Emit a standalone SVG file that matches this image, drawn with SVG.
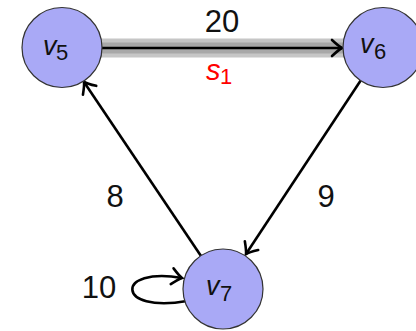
<svg xmlns="http://www.w3.org/2000/svg" width="416" height="331" viewBox="0 0 416 331">
<style>
.node{fill:#a9a9f6;stroke:#333;stroke-width:1.2}
.edge{fill:none;stroke:#000;stroke-width:2.6}
.lbl{font-family:"Liberation Sans",Arial,sans-serif;font-size:31px;fill:#111}
.v{font-family:"Liberation Sans",Arial,sans-serif;font-style:italic;font-size:27px;fill:#111}
.sub{font-family:"Liberation Sans",Arial,sans-serif;font-size:22px;fill:#111}
</style>
<defs>
<marker id="arr" markerUnits="userSpaceOnUse" markerWidth="20" markerHeight="20" viewBox="-12 -10 14 20" refX="0" refY="0" orient="auto" overflow="visible">
<path d="M -10 -8 Q -3 -1.5 0 0 Q -3 1.5 -10 8" fill="none" stroke="#000" stroke-width="2.6" stroke-linecap="round"/>
</marker>
</defs>
<g id="connectors">
<line x1="100" y1="48" x2="345" y2="48" stroke="#c6c6c6" stroke-width="19"/>
<line x1="100" y1="48" x2="345" y2="48" stroke="#a8a8a8" stroke-width="11"/>
<line class="edge" x1="102" y1="48" x2="342" y2="48" marker-end="url(#arr)"/>
<line class="edge" x1="361" y1="80" x2="246" y2="254" marker-end="url(#arr)"/>
<line class="edge" x1="201" y1="256" x2="84" y2="82" marker-end="url(#arr)"/>
<path class="edge" d="M 187 301 C 115 314 115 266 182 278" marker-end="url(#arr)"/>
<text class="lbl" x="222" y="32" text-anchor="middle">20</text>
<text x="206" y="80" font-family="Liberation Sans,Arial,sans-serif" font-style="italic" font-size="29" fill="#ff0000">s</text>
<text x="220" y="84" font-family="Liberation Sans,Arial,sans-serif" font-size="22" fill="#ff0000">1</text>
<text class="lbl" x="115" y="207" text-anchor="middle">8</text>
<text class="lbl" x="326" y="207" text-anchor="middle">9</text>
<text class="lbl" x="99" y="298" text-anchor="middle">10</text>
</g>
<g id="v5">
<circle class="node" cx="62" cy="47.5" r="40"/>
<text class="v" x="43" y="55">v</text>
<text class="sub" x="56" y="60">5</text>
</g>
<g id="v6">
<circle class="node" cx="383" cy="47.5" r="40"/>
<text class="v" x="360" y="53">v</text>
<text class="sub" x="374" y="59">6</text>
</g>
<g id="v7">
<circle class="node" cx="223" cy="289" r="40"/>
<text class="v" x="206" y="295">v</text>
<text class="sub" x="220" y="301">7</text>
</g>
</svg>
